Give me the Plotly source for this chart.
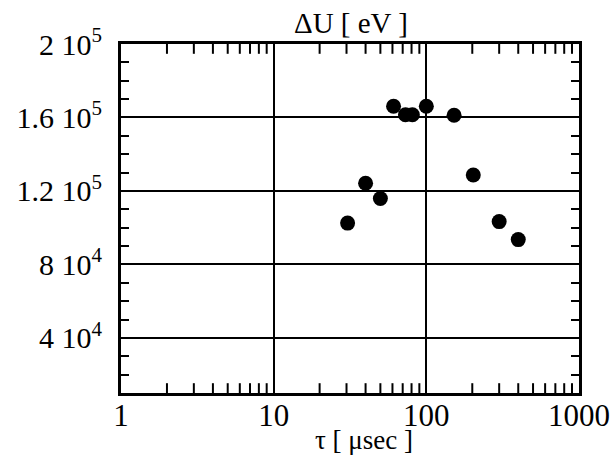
import plotly.graph_objects as go

tau_usec = [30.5, 40, 50, 61, 73, 81, 100, 152, 203, 300, 400]
delta_u_ev = [1.025e5, 1.242e5, 1.159e5, 1.661e5, 1.615e5, 1.615e5, 1.661e5, 1.612e5, 1.287e5, 1.033e5, 0.935e5]

y_range = [1e4, 2e5]
y_tickvals = [4e4, 8e4, 1.2e5, 1.6e5, 2e5]
y_ticktext = ["4 10<sup>4</sup>", "8 10<sup>4</sup>", "1.2 10<sup>5</sup>", "1.6 10<sup>5</sup>", "2 10<sup>5</sup>"]
x_minor_vals = [m * d for d in (1, 10, 100) for m in range(2, 10)]

font = "Liberation Serif, Times New Roman, serif"

fig = go.Figure()
# minor log ticks on the bottom and top frame edges (half of each mark is clipped away)
for edge in y_range:
    fig.add_trace(go.Scatter(
        x=x_minor_vals, y=[edge] * len(x_minor_vals), mode="markers",
        marker=dict(symbol="line-ns", size=14, color="black", line=dict(width=2, color="black")),
        showlegend=False, hoverinfo="skip", cliponaxis=True,
    ))
fig.add_trace(go.Scatter(
    x=tau_usec, y=delta_u_ev, mode="markers",
    marker=dict(size=15, color="black"),
    showlegend=False, cliponaxis=False,
))

fig.update_layout(
    width=611, height=462,
    margin=dict(l=121, r=32, t=44, b=69),
    paper_bgcolor="white", plot_bgcolor="white",
    font=dict(family=font, size=28, color="black"),
    annotations=[
        dict(text="ΔU [ eV ]", xref="paper", yref="paper", x=0.503, y=1.06,
             xanchor="center", yanchor="middle", showarrow=False,
             font=dict(family=font, size=29, color="black")),
        dict(text="τ [ μsec ]", xref="paper", yref="paper", x=0.5306, y=-0.135,
             xanchor="center", yanchor="middle", showarrow=False,
             font=dict(family=font, size=27, color="black")),
    ],
)

fig.update_xaxes(
    type="log", range=[0, 3], automargin=False,
    tickmode="linear", tick0=0, dtick=1, exponentformat="none",
    showgrid=True, gridcolor="black", gridwidth=2,
    showline=True, linecolor="black", linewidth=3, mirror="allticks",
    ticks="inside", ticklen=8, tickwidth=2, tickcolor="black",
    zeroline=False,
    tickfont=dict(family=font, size=31, color="black"),
    ticklabelstandoff=-7,
)
fig.update_yaxes(
    range=y_range, automargin=False,
    tickvals=y_tickvals, ticktext=y_ticktext,
    showgrid=True, gridcolor="black", gridwidth=2,
    showline=True, linecolor="black", linewidth=3, mirror="allticks",
    ticks="inside", ticklen=9, tickwidth=2, tickcolor="black",
    minor=dict(ticks="inside", ticklen=8, tickwidth=2, tickcolor="black", dtick=1e4, tick0=0, showgrid=False),
    zeroline=False,
    tickfont=dict(family=font, size=30, color="black"),
    ticklabelstandoff=10,
)

fig.write_html("out.html")
